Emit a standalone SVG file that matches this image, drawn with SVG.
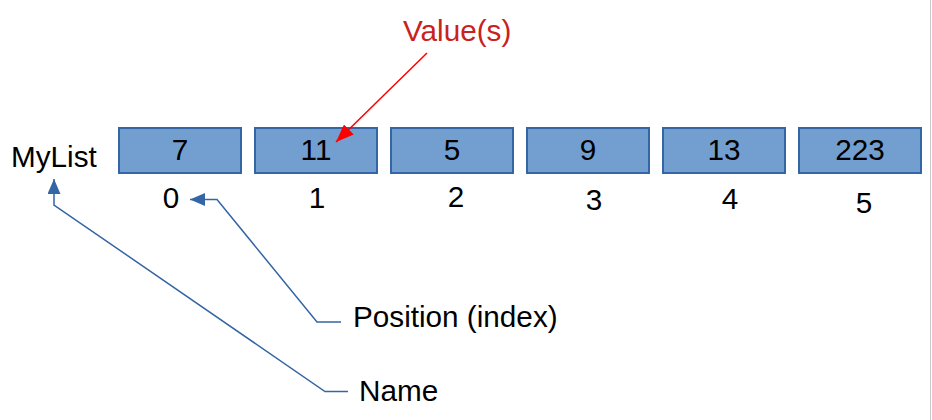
<svg xmlns="http://www.w3.org/2000/svg" width="932" height="420" viewBox="0 0 932 420">
  <style>
    text { font-family: "Liberation Sans", Arial, sans-serif; font-size: 29.7px; fill: #000; }
    .c { text-anchor: middle; }
    .cell { fill: #729fcf; stroke: #3465a4; stroke-width: 2; }
    .blue { fill: none; stroke: #3465a4; stroke-width: 1.5; }
    .red { fill: none; stroke: #ff0000; stroke-width: 1.5; }
    .val { fill: #c9211e; }
  </style>
  <defs>
    <marker id="ab" markerUnits="userSpaceOnUse" markerWidth="16" markerHeight="14" refX="15" refY="6.5" orient="auto">
      <path d="M0,0 L15,6.5 L0,13 z" fill="#3465a4"/>
    </marker>
    <marker id="ar" markerUnits="userSpaceOnUse" markerWidth="19" markerHeight="15" refX="18" refY="7" orient="auto">
      <path d="M0,0 L18,7 L0,14 z" fill="#ff0000"/>
    </marker>
  </defs>
  <rect width="932" height="420" fill="#ffffff"/>
  <line x1="930.5" y1="0" x2="930.5" y2="420" stroke="#c8c8c8" stroke-width="1"/>

  <g id="name-label"><text x="11" y="167">MyList</text></g>

  <g id="cell0"><rect class="cell" x="119" y="128" width="122" height="45"/><text class="c" x="180" y="160">7</text></g>
  <g id="cell1"><rect class="cell" x="255" y="128" width="122" height="45"/><text class="c" x="316" y="160">11</text></g>
  <g id="cell2"><rect class="cell" x="391" y="128" width="122" height="45"/><text class="c" x="452" y="160">5</text></g>
  <g id="cell3"><rect class="cell" x="527" y="128" width="122" height="45"/><text class="c" x="588" y="160">9</text></g>
  <g id="cell4"><rect class="cell" x="663" y="128" width="122" height="45"/><text class="c" x="724" y="160">13</text></g>
  <g id="cell5"><rect class="cell" x="799" y="128" width="122" height="45"/><text class="c" x="860" y="160">223</text></g>

  <g id="indices">
    <text class="c" x="171" y="208">0</text>
    <text class="c" x="317" y="208">1</text>
    <text class="c" x="456" y="207">2</text>
    <text class="c" x="594" y="210">3</text>
    <text class="c" x="730" y="209">4</text>
    <text class="c" x="864" y="213">5</text>
  </g>

  <g id="value-label"><text class="val" x="403" y="41">Value(s)</text></g>
  <g id="position-label"><text x="353" y="327">Position (index)</text></g>
  <g id="name-caption"><text x="359" y="401">Name</text></g>

  <g id="connectors">
    <path class="red" d="M427,53 L336,142" marker-end="url(#ar)"/>
    <path class="blue" d="M341,322 L317,322 L217,199.5 L190,199.5" marker-end="url(#ab)"/>
    <path class="blue" d="M348,391.5 L325,391.5 L54,205 L54,179" marker-end="url(#ab)"/>
  </g>
</svg>
